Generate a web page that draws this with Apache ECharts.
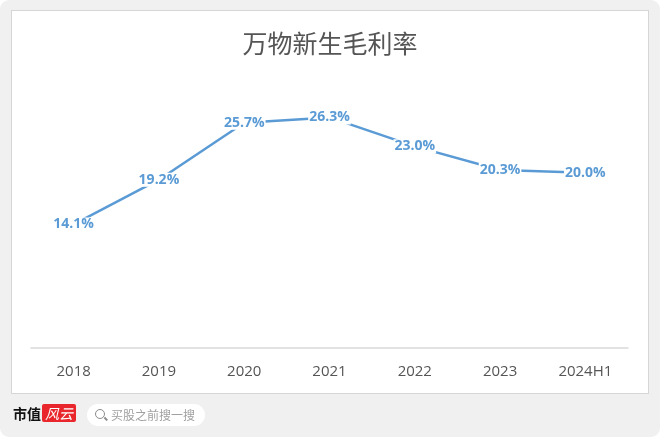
<!DOCTYPE html>
<html lang="zh">
<head>
    <meta charset="UTF-8">
    <title>万物新生毛利率</title>
    <script src="https://cdn.jsdelivr.net/npm/echarts@6/dist/echarts.min.js"></script>
    <style>
        html, body {
            margin: 0;
            padding: 0;
            background: #ffffff;
        }
        #frame {
            position: relative;
            width: 660px;
            height: 437px;
            background: #f0f0f0;
            border-radius: 9px;
            overflow: hidden;
            font-family: "Noto Sans CJK SC", sans-serif;
        }
        #panel {
            position: absolute;
            left: 11px;
            top: 10px;
            width: 636px;
            height: 382px;
            background: #ffffff;
            border: 1px solid #d6d6d6;
        }
        #chart {
            position: absolute;
            left: 0;
            top: 0;
            width: 660px;
            height: 437px;
        }
        .brand {
            position: absolute;
            left: 13px;
            top: 404px;
            font-size: 14px;
            font-weight: bold;
            color: #111;
            line-height: 18px;
        }
        .brand .red {
            display: inline-block;
            margin-left: 1px;
            padding: 0 3px;
            background: #e8262b;
            color: #fff;
            font-style: italic;
            font-weight: normal;
            border-radius: 2px;
        }
        .search {
            position: absolute;
            left: 87px;
            top: 404px;
            width: 118px;
            height: 22px;
            border-radius: 11px;
            background: #ffffff;
            color: #a0a0a0;
            font-size: 12px;
            line-height: 22px;
        }
        .search .icon {
            position: absolute;
            left: 8px;
            top: 5px;
            width: 8px;
            height: 8px;
            border: 1.5px solid #8a8a8a;
            border-radius: 50%;
        }
        .search .icon:after {
            content: "";
            position: absolute;
            left: 8px;
            top: 8px;
            width: 4px;
            height: 1.5px;
            background: #8a8a8a;
            transform: rotate(45deg);
        }
        .search .txt {
            position: absolute;
            left: 24px;
            top: 0;
        }
    </style>
</head>
<body>
<div id="frame">
    <div id="panel"></div>
    <div id="chart"></div>
    <div class="brand">市值<span class="red">风云</span></div>
    <div class="search"><span class="icon"></span><span class="txt">买股之前搜一搜</span></div>
</div>
<script>
    // 毛利率 (%)
    let years = ['2018', '2019', '2020', '2021', '2022', '2023', '2024H1'];
    let grossMargin = [14.1, 19.2, 25.7, 26.3, 23.0, 20.3, 20.0];

    let option = {
        backgroundColor: 'transparent',
        animation: false,
        title: {
            text: '万物新生毛利率',
            left: 'center',
            top: 26,
            textStyle: {
                color: '#555555',
                fontSize: 25,
                fontWeight: 'normal',
                fontFamily: 'Noto Sans CJK SC'
            }
        },
        grid: {
            left: 31,
            right: 32,
            top: 85,
            bottom: 89
        },
        xAxis: {
            type: 'category',
            data: years,
            boundaryGap: true,
            axisLine: { lineStyle: { color: '#d9d9d9', width: 1.5 } },
            axisTick: { show: false },
            axisLabel: {
                color: '#555555',
                fontSize: 15,
                margin: 16,
                fontFamily: 'Open Sans'
            }
        },
        yAxis: {
            type: 'value',
            min: 0,
            max: 30,
            show: false,
            splitLine: { show: false }
        },
        series: [
            {
                type: 'line',
                data: grossMargin,
                symbol: 'circle',
                symbolSize: 2,
                itemStyle: { color: 'rgba(255,255,255,0)', borderWidth: 0 },
                lineStyle: { color: '#5b9bd5', width: 2.5 },
                label: {
                    show: true,
                    position: 'inside',
                    formatter: function (p) { return p.value.toFixed(1) + '%'; },
                    color: '#5b9bd5',
                    fontSize: 14,
                    fontWeight: 'bold',
                    fontFamily: 'Open Sans',
                    backgroundColor: '#ffffff',
                    padding: [0, 1]
                }
            }
        ]
    };

    let chart = echarts.init(document.getElementById('chart'));
    chart.setOption(option);
</script>
</body>
</html>
